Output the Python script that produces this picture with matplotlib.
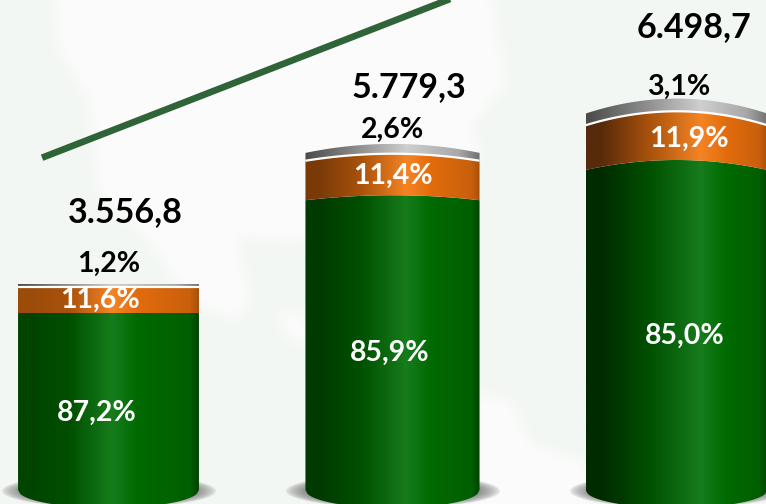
import numpy as np
import matplotlib
matplotlib.use("Agg")
import matplotlib.pyplot as plt
from matplotlib.colors import LinearSegmentedColormap, to_rgb
from matplotlib.path import Path
from matplotlib.patches import PathPatch

# data
totals = [3556.8, 5779.3, 6498.7]
green_share = [87.2, 85.9, 85.0]
orange_share = [11.6, 11.4, 11.9]
grey_share = [1.2, 2.6, 3.1]
total_labels = ["3.556,8", "5.779,3", "6.498,7"]
green_labels = ["87,2%", "85,9%", "85,0%"]
orange_labels = ["11,6%", "11,4%", "11,9%"]
grey_labels = ["1,2%", "2,6%", "3,1%"]
trend_x = [-0.234, 1.22]
trend_y = [5560, 8110]

# layout, in pixels of the 766x504 picture
W, H = 766, 504
PX = 0.063  # px per unit
BASE = 508
centers = [108.5, 393, 677]
SPACING = 284
bar_w = [0.637, 0.613, 0.64]
top_sag = [0, 9, 15]     # how much the boundaries bow
white_sag = [0, 7, 14]
mid_sag = [0, 5, 10]
bottom_sag = 18

total_pos = [(125, 212), (409, 87), (694, 27)]
grey_pos = [(109, 264), (393, 130), (679, 87)]
orange_pos = [(100, 300), (393, 176), (689, 139)]
green_pos = [(97, 413), (390, 353), (685, 336)]

orange_dark = ["#9c4c0a", "#7a3a08", "#572a0a"]
green_dark = ["#004400", "#003a00", "#002a00"]
peak = [0.52, 0.58, 0.63]

plt.rcParams["font.family"] = ["Lato", "DejaVu Sans"]
fig = plt.figure(figsize=(W / 100, H / 100), dpi=100, facecolor="#f3f7f3")
ax = fig.add_axes([0, 0, 1, 1])
ax.axis("off")

xlim = (-centers[0] / SPACING, (W - centers[0]) / SPACING)
ylim = ((BASE - H) / PX, BASE / PX)

# faint map in the background, white shapes blurred a bit
white_areas = [
    [(55, -5), (490, -5), (505, 85), (470, 125), (480, 160), (300, 240), (235, 235), (250, 300),
     (235, 320), (190, 300), (150, 240), (100, 195), (90, 100), (60, 50)],
    [(470, 395), (510, 400), (530, 445), (590, 465), (590, 510), (470, 510)],
    [(280, 310), (310, 320), (310, 345), (285, 335)],
]
gx, gy = np.meshgrid(np.arange(W) + 0.5, np.arange(H) + 0.5)
pts = np.column_stack([gx.ravel(), gy.ravel()])
mask = np.zeros((H, W))
for a in white_areas:
    mask[Path(a).contains_points(pts).reshape(H, W)] = 1.0
kernel = np.ones(21) / 21
mask = np.apply_along_axis(lambda r: np.convolve(r, kernel, mode="same"), 0, np.pad(mask, 10, mode="edge"))
mask = np.apply_along_axis(lambda r: np.convolve(r, kernel, mode="same"), 1, mask)[10:-10, 10:-10]
bg = np.array(to_rgb("#f3f7f3")) + mask[..., None] * (np.array(to_rgb("#fcfcfc")) - np.array(to_rgb("#f3f7f3")))
ax.imshow(bg, extent=[xlim[0], xlim[1], ylim[0], ylim[1]], aspect="auto", zorder=1)

# shadows under the bars
yy, xx = np.mgrid[-1:1:60j, -1:1:200j]
alpha = np.clip(1 - np.sqrt(xx ** 2 + yy ** 2), 0, 1) ** 0.6
shadow = np.zeros((60, 200, 4))
shadow[..., :3] = 0.25
shadow[..., 3] = np.clip(alpha * 1.5, 0, 0.85)
for c in centers:
    ax.imshow(shadow, extent=[(c - 108 - centers[0]) / SPACING, (c + 108 - centers[0]) / SPACING,
                              (BASE - 508) / PX, (BASE - 474) / PX],
              aspect="auto", zorder=2, interpolation="bilinear")


def arc(i, value, sag_px):
    # boundary of a stack level: highest at the middle, lower at the edges
    t = np.linspace(-1, 1, 80)
    x = i + t * bar_w[i] / 2
    y = value - (sag_px / PX) * t ** 2
    return x, y


def bottom(i):
    # the cylinder's foot is a half ellipse, lowest at the middle
    t = np.linspace(-1, 1, 80)
    x = i + t * bar_w[i] / 2
    y = (bottom_sag / PX) * (1 - np.sqrt(1 - t ** 2))
    return x, y


def segment(i, xl, yl, xh, yh, cmap):
    verts = np.vstack([np.column_stack([xl, yl]), np.column_stack([xh[::-1], yh[::-1]])])
    path = Path(np.vstack([verts, verts[0]]), closed=True)
    patch = PathPatch(path, transform=ax.transData, fc="none", ec="none")
    ax.add_patch(patch)
    grad = np.linspace(0, 1, 256).reshape(1, -1)
    im = ax.imshow(grad, cmap=cmap, extent=[i - bar_w[i] / 2, i + bar_w[i] / 2, ylim[0], ylim[1]],
                   aspect="auto", zorder=3, interpolation="bilinear")
    im.set_clip_path(patch)


for i in range(3):
    g = totals[i] * green_share[i] / 100
    o = totals[i] * orange_share[i] / 100
    p = peak[i]
    green_cm = LinearSegmentedColormap.from_list("g", [(0, green_dark[i]), (0.08, green_dark[i]), (p * 0.55, "#005000"),
                                                       (p, "#167c1c"), (p + 0.14, "#006a00"), (0.95, "#005f00"), (1, "#004400")])
    orange_cm = LinearSegmentedColormap.from_list("o", [(0, orange_dark[i]), (0.08, orange_dark[i]), (p * 0.55, "#a9520c"),
                                                        (p, "#f58424"), (p + 0.14, "#e26c0c"), (0.95, "#c9600c"), (1, "#a8500a")])
    grey_cm = LinearSegmentedColormap.from_list("k", [(0, "#4a4a4a"), (p * 0.5, "#8a8a8a"), (p, "#cfcfcf"),
                                                      (0.88, "#a8a8a8"), (1, "#707070")])
    xb, yb = bottom(i)
    xm, ym = arc(i, g, mid_sag[i])
    xw, yw = arc(i, g + o, white_sag[i])
    xt, yt = arc(i, totals[i], top_sag[i])
    segment(i, xb, yb, xm, ym, green_cm)
    segment(i, xm, ym, xw, yw, orange_cm)
    segment(i, xw, yw, xt, yt, grey_cm)
    ax.plot(xw, yw, color="white", lw=1.6, zorder=4, solid_capstyle="butt")

ax.plot(trend_x, trend_y, color="#2f6338", lw=4.8, zorder=3, solid_capstyle="butt")

ax.set_xlim(*xlim)
ax.set_ylim(*ylim)


def label(pos, s, color, size):
    fig.text(pos[0] / W, 1 - pos[1] / H, s, color=color, fontsize=size, fontweight="bold",
             ha="center", va="center", zorder=6)


for i in range(3):
    label(total_pos[i], total_labels[i], "black", 24.5)
    label(grey_pos[i], grey_labels[i], "black", 20.5)
    label(orange_pos[i], orange_labels[i], "white", 20.5)
    label(green_pos[i], green_labels[i], "white", 20.5)

fig.savefig("out.png", dpi=100, facecolor=fig.get_facecolor())
